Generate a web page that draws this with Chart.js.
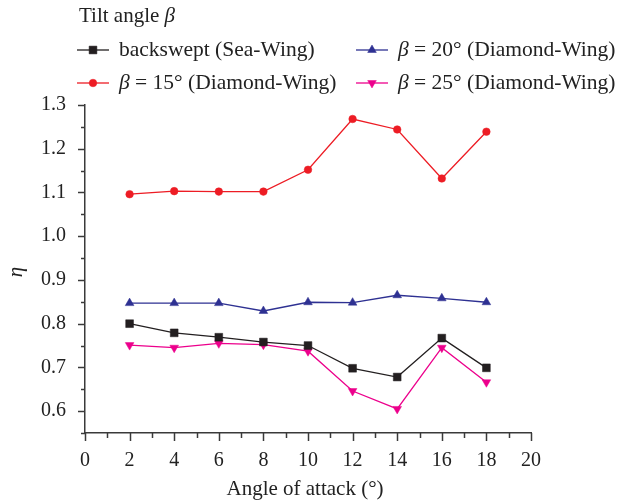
<!DOCTYPE html>
<html>
<head>
<meta charset="utf-8">
<script src="https://cdn.jsdelivr.net/npm/chart.js@4/dist/chart.umd.min.js"></script>
<style>
  html, body { margin: 0; padding: 0; background: #fff; }
  #wrap { width: 619px; height: 503px; position: relative; }
</style>
</head>
<body>
<div id="wrap"><canvas id="myChart"></canvas></div>
<script>
// angle of attack (deg) and efficiency eta for each wing
const angles = [2, 4, 6, 8, 10, 12, 14, 16, 18];
const seaWing = [0.800, 0.779, 0.769, 0.758, 0.750, 0.698, 0.678, 0.767, 0.699];
const beta15 = [1.096, 1.103, 1.102, 1.102, 1.152, 1.268, 1.244, 1.132, 1.239];
const beta20 = [0.847, 0.847, 0.847, 0.829, 0.849, 0.848, 0.865, 0.858, 0.849];
const beta25 = [0.751, 0.745, 0.755, 0.752, 0.737, 0.646, 0.605, 0.745, 0.666];

const seriesLabels = ['backswept (Sea-Wing)', 'β = 15° (Diamond-Wing)', 'β = 20° (Diamond-Wing)', 'β = 25° (Diamond-Wing)'];
const legendTitle = 'Tilt angle β';
const xTitle = 'Angle of attack (°)';
const yTitle = 'η';

const FONT = '"Liberation Serif", "Times New Roman", serif';
const AXIS = '#3a3a3a';

function pts(ys) {
    return angles.map((a, i) => ({ x: a, y: ys[i] }));
}

function serie(label, ys, color, style, radius, rot) {
    return {
        label: label,
        data: pts(ys),
        borderColor: color,
        backgroundColor: color,
        borderWidth: 1.3,
        pointStyle: style,
        pointRadius: radius,
        pointHoverRadius: radius,
        pointRotation: rot || 0,
        pointBorderWidth: 0.5,
        tension: 0
    };
}

// draws text where a leading or trailing β is set in italic
function mixedText(ctx, text, x, y, size) {
    let cx = x;
    if (text.startsWith('β')) {
        ctx.font = 'italic ' + size + 'px ' + FONT;
        ctx.fillText('β', cx, y);
        cx += ctx.measureText('β').width;
        text = text.slice(1);
    }
    const tail = text.endsWith(' β');
    if (tail) text = text.slice(0, -1);
    ctx.font = size + 'px ' + FONT;
    ctx.fillText(text, cx, y);
    cx += ctx.measureText(text).width;
    if (tail) {
        ctx.font = 'italic ' + size + 'px ' + FONT;
        ctx.fillText('β', cx, y);
    }
}

const decor = {
    id: 'decor',
    afterDraw(chart) {
        const ctx = chart.ctx;
        const xs = chart.scales.x, ys = chart.scales.y;
        const ax = ys.right, ay = xs.top;
        ctx.save();
        ctx.strokeStyle = AXIS;
        ctx.lineWidth = 1.5;
        // y ticks: long on labelled values, short in between
        ys.ticks.forEach(t => {
            const p = Math.round(ys.getPixelForValue(t.value)) + 0.5;
            const len = t.label !== '' ? 7 : 4;
            ctx.beginPath(); ctx.moveTo(ax, p); ctx.lineTo(ax - len, p); ctx.stroke();
        });
        xs.ticks.forEach(t => {
            const p = Math.round(xs.getPixelForValue(t.value)) + 0.5;
            const len = t.label !== '' ? 8 : 5;
            ctx.beginPath(); ctx.moveTo(p, ay); ctx.lineTo(p, ay + len); ctx.stroke();
        });

        // axis titles
        ctx.fillStyle = '#222';
        ctx.textBaseline = 'middle';
        ctx.textAlign = 'center';
        ctx.font = '21px ' + FONT;
        ctx.fillText(xTitle, (xs.left + xs.right) / 2 - 3, 489);
        ctx.save();
        ctx.translate(16, 272);
        ctx.rotate(-Math.PI / 2);
        ctx.font = 'italic 21px ' + FONT;
        ctx.fillText(yTitle, 0, 0);
        ctx.restore();

        // legend in two columns
        ctx.textAlign = 'left';
        mixedText(ctx, legendTitle, 79, 16, 21);
        const slots = [[77, 50], [77, 83], [356, 50], [356, 83]];
        chart.data.datasets.forEach((ds, i) => {
            const [lx, ly] = slots[i];
            ctx.strokeStyle = ds.borderColor;
            ctx.lineWidth = 1.3;
            ctx.beginPath(); ctx.moveTo(lx, ly); ctx.lineTo(lx + 32, ly); ctx.stroke();
            ctx.fillStyle = ds.backgroundColor;
            ctx.lineWidth = 0.5;
            Chart.helpers.drawPoint(ctx, {
                pointStyle: ds.pointStyle,
                rotation: ds.pointRotation,
                radius: ds.pointRadius,
                borderWidth: 0.5
            }, lx + 16, ly);
            ctx.fillStyle = '#222';
            mixedText(ctx, ds.label, lx + 42, ly, 21.5);
        });
        ctx.restore();
    }
};

const config = {
    type: 'line',
    data: {
        datasets: [
            serie(seriesLabels[0], seaWing, '#231f20', 'rect', 5.5),
            serie(seriesLabels[1], beta15, '#ed1c24', 'circle', 3.8),
            serie(seriesLabels[2], beta20, '#2e3192', 'triangle', 5),
            serie(seriesLabels[3], beta25, '#ec008c', 'triangle', 5, 180)
        ]
    },
    options: {
        responsive: true,
        maintainAspectRatio: false,
        animation: false,
        layout: { padding: { left: 0, right: 88, top: 105, bottom: 0 } },
        plugins: { legend: { display: false }, tooltip: { enabled: false } },
        scales: {
            x: {
                type: 'linear',
                min: 0,
                max: 20,
                afterFit: s => { s.height = 70; },
                border: { display: true, color: AXIS, width: 1.5 },
                grid: { display: false, drawTicks: false },
                ticks: {
                    stepSize: 1,
                    padding: 16,
                    color: '#222',
                    font: { family: FONT, size: 20 },
                    maxRotation: 0,
                    autoSkip: false,
                    callback: v => (v % 2 === 0 ? String(v) : '')
                }
            },
            y: {
                min: 0.55,
                max: 1.3,
                afterFit: s => { s.width = 85; },
                border: { display: true, color: AXIS, width: 1.5 },
                grid: { display: false, drawTicks: false },
                ticks: {
                    stepSize: 0.05,
                    padding: 19,
                    color: '#222',
                    font: { family: FONT, size: 20 },
                    autoSkip: false,
                    callback: v => {
                        const k = Math.round(v * 100);
                        return k % 10 === 0 ? (k / 100).toFixed(1) : '';
                    }
                }
            }
        }
    },
    plugins: [decor]
};

new Chart(document.getElementById('myChart').getContext('2d'), config);
</script>
</body>
</html>
